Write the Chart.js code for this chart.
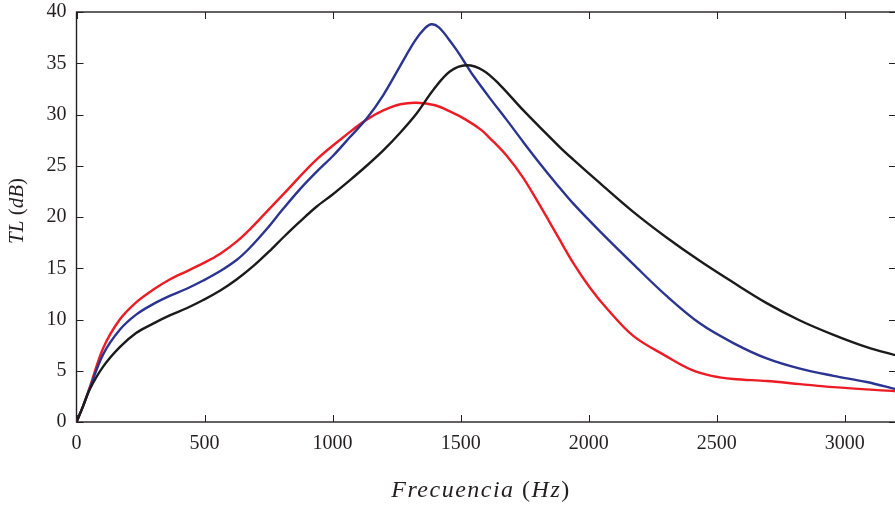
<!DOCTYPE html>
<html lang="es">
<head>
<meta charset="UTF-8" />
<title>TL vs Frecuencia</title>
<script src="https://cdn.jsdelivr.net/npm/chart.js"></script>
<style>
  html, body { margin: 0; padding: 0; background: #fff; overflow: hidden; }
  .wrap { width: 897px; height: 508px; }
</style>
</head>
<body>
<div class="wrap"><canvas id="grafico"></canvas></div>
<script>
// datos (Hz, dB)
const rojoFreq = [0, 25, 52, 104, 169, 234, 299, 364, 430, 495, 560, 625, 677, 742, 807, 937, 1068, 1133, 1198, 1265, 1328, 1400, 1458, 1520, 1580, 1614, 1679, 1745, 1810, 1875, 1940, 2005, 2070, 2174, 2304, 2400, 2480, 2565, 2695, 2825, 2956, 3200];
const rojoTL   = [0, 1.5, 3.4, 7.2, 10.0, 11.7, 12.9, 13.9, 14.7, 15.5, 16.4, 17.6, 18.8, 20.5, 22.2, 25.6, 28.3, 29.5, 30.4, 31.0, 31.15, 30.9, 30.3, 29.5, 28.5, 27.7, 26.0, 23.8, 21.1, 18.3, 15.5, 13.1, 11.1, 8.4, 6.4, 5.1, 4.5, 4.2, 4.0, 3.7, 3.4, 3.0];

const azulFreq = [0, 25, 52, 104, 169, 234, 299, 364, 430, 495, 560, 625, 677, 742, 807, 872, 937, 1003, 1068, 1133, 1198, 1263, 1322, 1360, 1387, 1415, 1452, 1484, 1523, 1549, 1614, 1679, 1745, 1810, 1875, 1940, 2044, 2174, 2304, 2435, 2565, 2695, 2825, 2956, 3086, 3200];
const azulTL   = [0, 1.5, 3.3, 6.6, 9.0, 10.5, 11.5, 12.3, 13.0, 13.8, 14.7, 15.8, 17.0, 18.8, 20.8, 22.7, 24.4, 26.0, 27.8, 29.6, 31.9, 34.7, 37.2, 38.4, 38.8, 38.5, 37.4, 36.3, 34.8, 33.8, 31.6, 29.5, 27.3, 25.2, 23.2, 21.3, 18.6, 15.4, 12.3, 9.6, 7.7, 6.2, 5.2, 4.5, 3.9, 3.2];

const negroFreq = [0, 25, 52, 104, 169, 234, 299, 364, 430, 495, 560, 625, 690, 755, 807, 870, 937, 1000, 1068, 1133, 1198, 1263, 1328, 1393, 1458, 1523, 1588, 1653, 1745, 1888, 1940, 2044, 2174, 2304, 2435, 2565, 2695, 2825, 2956, 3086, 3200];
const negroTL   = [0, 1.5, 3.2, 5.4, 7.3, 8.7, 9.6, 10.4, 11.1, 11.9, 12.8, 13.9, 15.2, 16.7, 18.0, 19.5, 21.0, 22.2, 23.6, 25.0, 26.5, 28.2, 30.1, 32.4, 34.2, 34.8, 34.3, 32.9, 30.4, 26.8, 25.6, 23.3, 20.5, 18.0, 15.7, 13.6, 11.6, 9.9, 8.5, 7.3, 6.5];

const xTicks = [0, 500, 1000, 1500, 2000, 2500, 3000];
const yTicks = [0, 5, 10, 15, 20, 25, 30, 35, 40];

function puntos(fs, vs) {
  return fs.map((f, i) => ({ x: f, y: vs[i] }));
}

const tinta = '#231f20';
const fuente = '"Liberation Serif", "Times New Roman", serif';

// escribe trozos de texto (cursiva / recta) centrados en (0,0)
function trozos(ctx, partes, size) {
  const fnt = p => (p.it ? 'italic ' : '') + size + 'px ' + fuente;
  let total = 0;
  partes.forEach(p => { ctx.font = fnt(p); total += ctx.measureText(p.t).width; });
  let x = -total / 2;
  partes.forEach(p => {
    ctx.font = fnt(p);
    ctx.fillText(p.t, x, 0);
    x += ctx.measureText(p.t).width;
  });
}

// marco con marcas hacia dentro y titulos estilo latex
const marco = {
  id: 'marco',
  beforeDatasetsDraw(chart) {
    const { ctx, chartArea: a, scales } = chart;
    const L = 7;
    ctx.save();
    ctx.strokeStyle = tinta;
    ctx.lineWidth = 1.4;
    ctx.strokeRect(a.left, a.top, a.right - a.left, a.bottom - a.top);
    ctx.lineWidth = 1;
    ctx.beginPath();
    xTicks.forEach(v => {
      const px = Math.round(scales.x.getPixelForValue(v)) + 0.5;
      ctx.moveTo(px, a.bottom); ctx.lineTo(px, a.bottom - L);
      ctx.moveTo(px, a.top); ctx.lineTo(px, a.top + L);
    });
    yTicks.forEach(v => {
      const py = Math.round(scales.y.getPixelForValue(v)) + 0.5;
      ctx.moveTo(a.left, py); ctx.lineTo(a.left + L, py);
      ctx.moveTo(a.right, py); ctx.lineTo(a.right - L, py);
    });
    ctx.stroke();

    ctx.fillStyle = tinta;
    ctx.textBaseline = 'alphabetic';
    ctx.save();
    ctx.letterSpacing = '1.5px';
    ctx.translate(481, 497);
    trozos(ctx, [{ t: 'Frecuencia ', it: true }, { t: '(' }, { t: 'Hz', it: true }, { t: ')' }], 24);
    ctx.restore();
    ctx.save();
    ctx.letterSpacing = '0px';
    ctx.translate(23, 211);
    ctx.rotate(-Math.PI / 2);
    trozos(ctx, [{ t: 'TL ', it: true }, { t: '(' }, { t: 'dB', it: true }, { t: ')' }], 21);
    ctx.restore();
    ctx.restore();
  }
};

const serie = (datos, color) => ({
  data: datos,
  borderColor: color,
  borderWidth: 2.4,
  pointRadius: 0,
  fill: false,
  tension: 0.35
});

new Chart(document.getElementById('grafico'), {
  type: 'line',
  data: {
    datasets: [
      serie(puntos(negroFreq, negroTL), '#1b1b1b'),
      serie(puntos(azulFreq, azulTL), '#2b3490'),
      serie(puntos(rojoFreq, rojoTL), '#ed1c24')
    ]
  },
  options: {
    responsive: true,
    maintainAspectRatio: false,
    animation: false,
    layout: { padding: { left: 0, top: 12, right: 1, bottom: 0 } },
    plugins: { legend: { display: false }, tooltip: { enabled: false } },
    scales: {
      x: {
        type: 'linear',
        min: 0,
        max: 3200,
        afterFit: s => { s.height = 86; s.paddingLeft = 0; s.paddingRight = 0; },
        afterBuildTicks: s => { s.ticks = xTicks.map(v => ({ value: v })); },
        grid: { display: false, drawTicks: false },
        border: { display: false },
        ticks: { color: tinta, font: { family: fuente, size: 20 }, padding: 10, maxRotation: 0, callback: v => String(v) }
      },
      y: {
        min: 0,
        max: 40,
        afterFit: s => { s.width = 76.5; s.paddingTop = 0; s.paddingBottom = 0; },
        afterBuildTicks: s => { s.ticks = yTicks.map(v => ({ value: v })); },
        grid: { display: false, drawTicks: false },
        border: { display: false },
        ticks: { color: tinta, font: { family: fuente, size: 20 }, padding: 10, callback: v => String(v) }
      }
    }
  },
  plugins: [marco]
});
</script>
</body>
</html>
